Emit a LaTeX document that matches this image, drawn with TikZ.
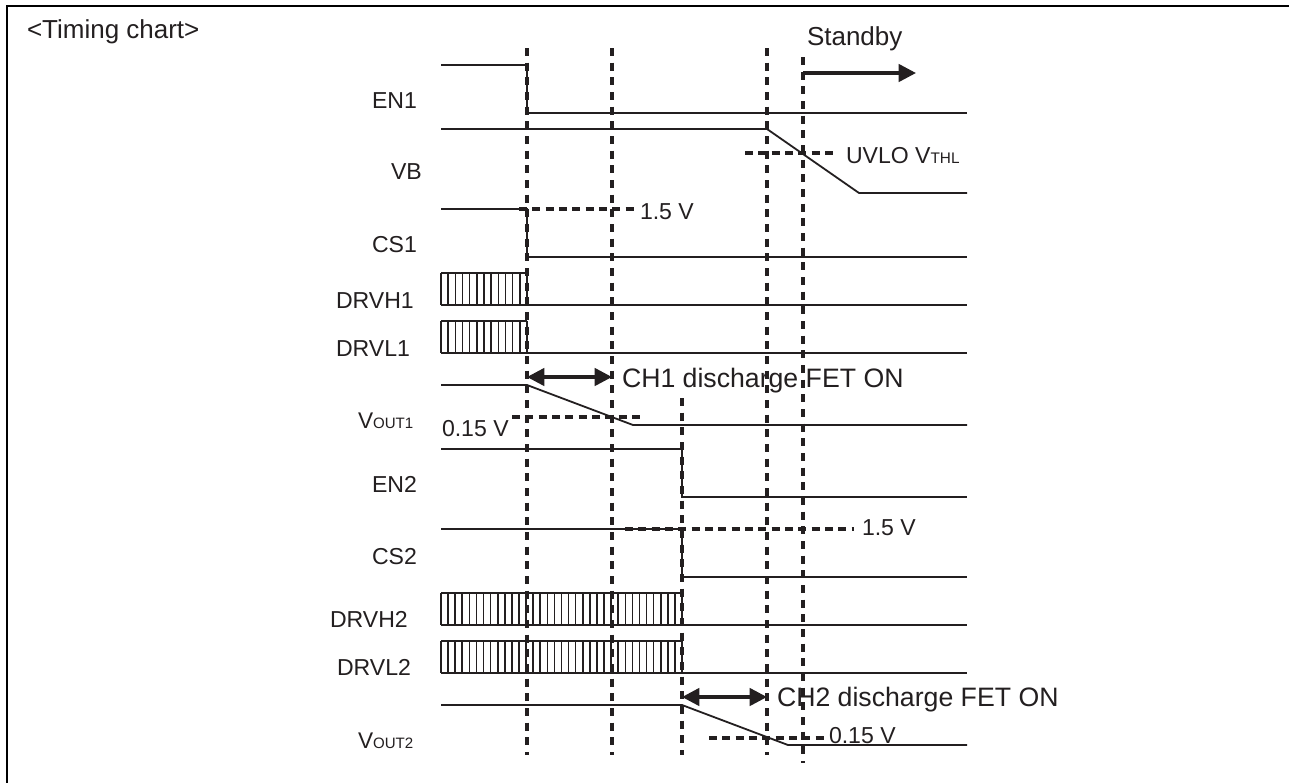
\documentclass[tikz,border=0pt]{standalone}
\usepackage{fontspec}
\setmainfont{Liberation Sans}
\usetikzlibrary{arrows.meta}
\definecolor{ink}{HTML}{231F20}
\tikzset{
  px/.style={x=0.75pt,y=-0.75pt},
  sig/.style={draw=ink,line width=1.35pt,line join=miter},
  dsh/.style={draw=ink,line width=2.4pt,dash pattern=on 6pt off 5pt},
  hdsh/.style={draw=ink,line width=2.4pt,dash pattern=on 6pt off 4pt},
  hatch/.style={draw=ink,line width=1.2pt},
  frame/.style={draw=black,line width=1.7pt},
  lbl/.style={anchor=base west,inner sep=0pt,outer sep=0pt,text=ink,font=\fontsize{17.3}{20}\selectfont},
  big/.style={lbl,font=\fontsize{19.5}{22}\selectfont},
  ch/.style={lbl,font=\fontsize{20}{22}\selectfont},
  dbl/.style={draw=ink,line width=2.6pt,{Triangle[length=13pt,width=13pt]}-{Triangle[length=13pt,width=13pt]}},
  sgl/.style={draw=ink,line width=2.6pt,-{Triangle[length=13pt,width=13pt]}}
}
\newcommand{\smc}[1]{{\fontsize{11.5}{14}\selectfont #1}}
\newcommand{\vsm}[1]{{\fontsize{17}{18}\selectfont V}{\fontsize{11.3}{14}\selectfont #1}}
\begin{document}
\begin{tikzpicture}[px]
\useasboundingbox (0,0) rectangle (1289,783);
\fill[white] (0,0) rectangle (1289,783);
% frame
\draw[frame] (1289,6) -- (7,6) -- (7,783);
% signals
\draw[sig] (441,65) -- (527,65) -- (527,113) -- (967,113);
\draw[sig] (441,129) -- (767,129) -- (859,193) -- (967,193);
\draw[sig] (441,209) -- (527,209) -- (527,257) -- (967,257);
\draw[sig] (441,305) -- (967,305);
\draw[sig] (441,353) -- (967,353);
\draw[sig] (441,385) -- (527,385) -- (633,425) -- (967,425);
\draw[sig] (441,449) -- (682,449) -- (682,497) -- (967,497);
\draw[sig] (441,529) -- (682,529) -- (682,577) -- (967,577);
\draw[sig] (441,625) -- (967,625);
\draw[sig] (441,673) -- (967,673);
\draw[sig] (441,705) -- (682,705) -- (788,745) -- (967,745);
% hatched bursts
\foreach \yt/\yb/\xe/\n in {273/305/527/12,321/353/527/12,593/625/682/34,641/673/682/34}{
  \draw[hatch] (441,\yt) -- (\xe,\yt);
  \foreach \i in {0,...,\n}{
    \draw[hatch] ({441+(\xe-441)*\i/\n},\yt) -- ({441+(\xe-441)*\i/\n},\yb);
  }
}
% vertical dashed
\draw[dsh] (527,48) -- (527,755);
\draw[dsh] (612,48) -- (612,755);
\draw[dsh] (767,48) -- (767,755);
\draw[dsh] (803,57) -- (803,763);
\draw[dsh] (682,398) -- (682,755);
% horizontal dashed
\draw[hdsh] (519,209) -- (635,209);
\draw[hdsh] (745,153) -- (838,153);
\draw[hdsh] (512,417) -- (641,417);
\draw[hdsh] (625,529) -- (854,529);
\draw[hdsh] (709,738) -- (826,738);
% arrows
\draw[dbl] (527,377) -- (612,377);
\draw[dbl] (682,697) -- (767,697);
\draw[sgl] (803,73) -- (916,73);
% labels
\node[big] (title) at (27,38) {<Timing chart>};
\node[big] (stby) at (807,45) {Standby};
\node[lbl] (en1) at (372,108) {EN1};
\node[lbl] (vb) at (391,179) {VB};
\node[lbl] (cs1) at (372,252) {CS1};
\node[lbl] (drvh1) at (336,308) {DRVH1};
\node[lbl] (drvl1) at (336,356) {DRVL1};
\node[lbl] (vout1) at (358,428) {\vsm{OUT1}};
\node[lbl] (en2) at (372,492) {EN2};
\node[lbl] (cs2) at (372,564) {CS2};
\node[lbl] (drvh2) at (330,627) {DRVH2};
\node[lbl] (drvl2) at (337,675) {DRVL2};
\node[lbl] (vout2) at (358,748) {\vsm{OUT2}};
\node[lbl] (v1) at (640,219) {1.5 V};
\node[lbl] (v2) at (862,535) {1.5 V};
\node[lbl] (uvlo) at (846,163) {UVLO V\smc{THL}};
\node[lbl] (z1) at (442,436) {0.15 V};
\node[lbl] (z2) at (829,743) {0.15 V};
\node[ch] (ch1) at (622,387) {CH1 discharge FET ON};
\node[ch] (ch2) at (777,706) {CH2 discharge FET ON};
\end{tikzpicture}
\end{document}
